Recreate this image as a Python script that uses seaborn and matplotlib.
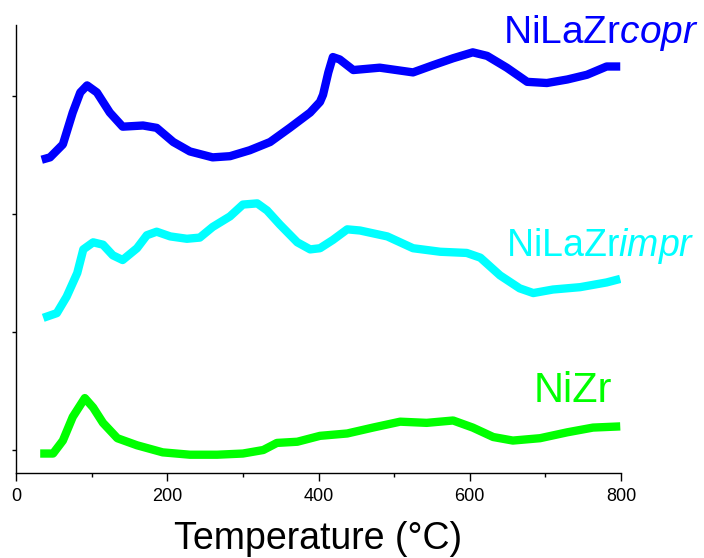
import matplotlib
matplotlib.use("Agg")
import matplotlib.pyplot as plt
import seaborn as sns
import pandas as pd
from matplotlib.ticker import MultipleLocator

sns.set_style("ticks")
plt.rcParams['font.family'] = ['Liberation Sans', 'DejaVu Sans']
plt.rcParams['mathtext.fontset'] = 'custom'
plt.rcParams['mathtext.rm'] = 'Liberation Sans'
plt.rcParams['mathtext.it'] = 'Liberation Sans:italic'
plt.rcParams['text.color'] = 'black'
plt.rcParams['axes.labelcolor'] = 'black'

# Temperature (°C) and intensity (a.u., offset per trace)
copr_T = [34, 45, 62, 75, 85, 94, 107, 124, 141, 168, 186, 208, 230, 260, 283, 309,
          336, 362, 389, 402, 406, 413, 419, 428, 446, 481, 525, 551, 578, 604, 623,
          649, 676, 702, 729, 755, 781, 799]
copr_I = [2.46, 2.48, 2.59, 2.86, 3.03, 3.09, 3.03, 2.86, 2.74, 2.75, 2.73, 2.61,
          2.53, 2.48, 2.49, 2.54, 2.61, 2.73, 2.86, 2.95, 3.01, 3.20, 3.33, 3.31,
          3.22, 3.24, 3.20, 3.26, 3.32, 3.37, 3.34, 3.24, 3.12, 3.11, 3.14, 3.18,
          3.25, 3.25]

impr_T = [36, 54, 67, 81, 89, 102, 115, 128, 141, 160, 173, 186, 204, 226, 243, 260,
          283, 300, 319, 332, 349, 372, 389, 402, 419, 438, 455, 491, 525, 561, 596,
          614, 640, 666, 684, 710, 746, 781, 799]
impr_I = [1.12, 1.16, 1.30, 1.50, 1.70, 1.76, 1.74, 1.65, 1.61, 1.71, 1.82, 1.85,
          1.81, 1.79, 1.80, 1.89, 1.98, 2.08, 2.09, 2.03, 1.91, 1.76, 1.70, 1.71,
          1.78, 1.87, 1.86, 1.81, 1.71, 1.68, 1.67, 1.63, 1.48, 1.37, 1.33, 1.36,
          1.38, 1.42, 1.45]

nizr_T = [32, 49, 62, 75, 91, 102, 115, 134, 160, 194, 230, 266, 300, 327, 345, 372,
          402, 438, 472, 508, 543, 578, 604, 631, 657, 693, 729, 763, 799]
nizr_I = [-0.03, -0.03, 0.08, 0.28, 0.44, 0.36, 0.23, 0.10, 0.04, -0.02, -0.04,
          -0.04, -0.03, 0.00, 0.06, 0.07, 0.12, 0.14, 0.19, 0.24, 0.23, 0.25, 0.19,
          0.11, 0.08, 0.10, 0.15, 0.19, 0.20]

series = [
    ("NiLaZrcopr", copr_T, copr_I, "#0000ff"),
    ("NiLaZrimpr", impr_T, impr_I, "#00ffff"),
    ("NiZr", nizr_T, nizr_I, "#00ff00"),
]

fig = plt.figure(figsize=(7.04, 5.58), dpi=100)
ax = fig.add_axes([16/704, 1-473/558, 605/704, 448/558])

for name, t, v, c in series:
    df = pd.DataFrame({"T": t, "I": v})
    sns.lineplot(data=df, x="T", y="I", color=c, lw=6, ax=ax, legend=False,
                 solid_joinstyle="round", solid_capstyle="butt")

ax.set_xlim(0, 800)
ax.set_ylim(-23/118, (450-25)/118)
ax.xaxis.set_major_locator(MultipleLocator(200))
ax.xaxis.set_minor_locator(MultipleLocator(100))
ax.set_yticks([0, 1, 2, 3])
ax.set_yticklabels([])
for s in ["top", "right"]:
    ax.spines[s].set_visible(False)
for s in ["left", "bottom"]:
    ax.spines[s].set_linewidth(1.0)
    ax.spines[s].set_color("black")
ax.tick_params(axis="x", which="major", direction="out", length=6, width=1,
               labelsize=13, pad=5, colors="black")
ax.tick_params(axis="x", which="minor", direction="out", length=3, width=1,
               colors="black")
ax.tick_params(axis="y", which="major", direction="out", length=3, width=1,
               colors="black")
ax.set_ylabel("")
ax.set_xlabel("Temperature (°C)", fontsize=27, labelpad=11, color="black")

ax.text(903, (450-43)/118, "NiLaZr$\\it{copr}$", color="#0000ff", fontsize=28,
        ha="right", va="baseline")
ax.text(898, (450-256)/118, "NiLaZr$\\it{impr}$", color="#00ffff", fontsize=27,
        ha="right", va="baseline")
ax.text(788, (450-402)/118, "NiZr", color="#00ff00", fontsize=30,
        ha="right", va="baseline")

fig.savefig("out.png", dpi=100)
